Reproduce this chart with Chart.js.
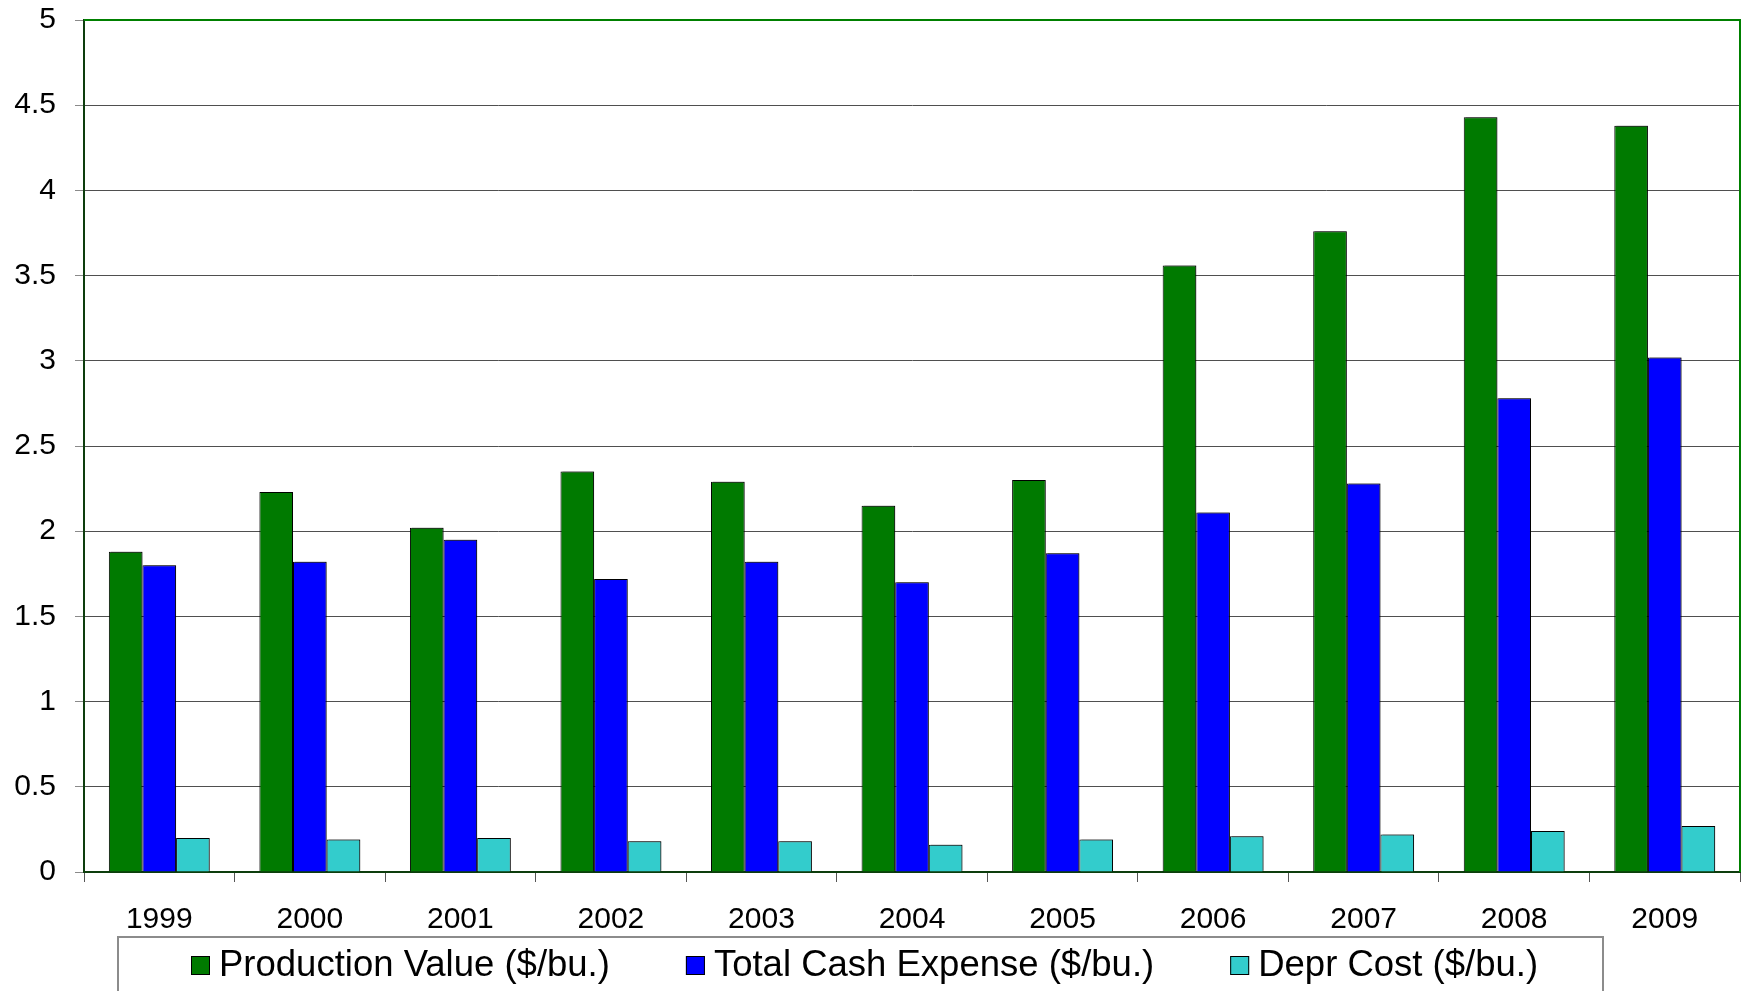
<!DOCTYPE html>
<html>
<head>
<meta charset="utf-8">
<script src="https://cdn.jsdelivr.net/npm/chart.js@4.4.1/dist/chart.umd.min.js"></script>
<style>
html,body{margin:0;padding:0;background:#fff;}
#wrap{width:1744px;height:991px;position:relative;}
</style>
</head>
<body>
<div id="wrap"><canvas id="c" width="1744" height="991"></canvas></div>
<script>
const categories = ['1999','2000','2001','2002','2003','2004','2005','2006','2007','2008','2009'];
const productionValue = [1.88, 2.23, 2.02, 2.35, 2.29, 2.15, 2.30, 3.56, 3.76, 4.43, 4.38];
const totalCashExpense = [1.80, 1.82, 1.95, 1.72, 1.82, 1.70, 1.87, 2.11, 2.28, 2.78, 3.02];
const deprCost = [0.20, 0.19, 0.20, 0.18, 0.18, 0.16, 0.19, 0.21, 0.22, 0.24, 0.27];
const seriesLabels = ['Production Value ($/bu.)', 'Total Cash Expense ($/bu.)', 'Depr Cost ($/bu.)'];
const seriesColors = ['#007a00', '#0000ff', '#33cccc'];

const FONT = '"Liberation Sans", Arial, sans-serif';

const shadowPlugin = {
  id: 'barShadow',
  beforeDatasetsDraw(chart) {
    const ctx = chart.ctx;
    ctx.save();
    ctx.shadowColor = 'rgba(0,0,0,0.35)';
    ctx.shadowOffsetX = 2;
    ctx.shadowOffsetY = -1;
    ctx.shadowBlur = 0;
  },
  afterDatasetsDraw(chart) {
    chart.ctx.restore();
  }
};

const framePlugin = {
  id: 'frame',
  afterDraw(chart) {
    const ctx = chart.ctx;
    const a = chart.chartArea;
    ctx.save();
    ctx.strokeStyle = '#008000';
    ctx.lineWidth = 2;
    ctx.beginPath();
    ctx.moveTo(a.left, a.top);
    ctx.lineTo(a.right, a.top);
    ctx.lineTo(a.right, a.bottom);
    ctx.stroke();
    ctx.restore();
  }
};

const legendPlugin = {
  id: 'customLegend',
  afterDraw(chart) {
    const ctx = chart.ctx;
    ctx.save();
    ctx.strokeStyle = '#8c8c8c';
    ctx.lineWidth = 2;
    ctx.strokeRect(118, 937, 1485, 80);
    ctx.font = '36.5px ' + FONT;
    ctx.textBaseline = 'alphabetic';
    ctx.textAlign = 'left';
    let x = 191;
    const box = 19, gapBoxText = 9, gapItems = 76;
    chart.data.datasets.forEach((ds) => {
      ctx.fillStyle = ds.backgroundColor;
      ctx.fillRect(x, 956, box, box);
      ctx.strokeStyle = '#000';
      ctx.lineWidth = 1;
      ctx.strokeRect(x + 0.5, 956.5, box - 1, box - 1);
      ctx.fillStyle = '#000';
      const tx = x + box + gapBoxText;
      ctx.fillText(ds.label, tx, 976);
      x = tx + ctx.measureText(ds.label).width + gapItems;
    });
    ctx.restore();
  }
};

const datasets = [productionValue, totalCashExpense, deprCost].map((vals, i) => ({
  label: seriesLabels[i],
  data: vals,
  backgroundColor: seriesColors[i],
  borderColor: '#000',
  borderWidth: 1,
  categoryPercentage: 0.67,
  barPercentage: 1.0
}));

new Chart(document.getElementById('c'), {
  type: 'bar',
  data: { labels: categories, datasets },
  plugins: [shadowPlugin, framePlugin, legendPlugin],
  options: {
    responsive: false,
    animation: false,
    devicePixelRatio: 1,
    layout: { padding: { top: 20, right: 4, left: 0, bottom: 0 } },
    plugins: { legend: { display: false }, tooltip: { enabled: false } },
    scales: {
      x: {
        afterFit(scale) { scale.height = 119; scale.paddingLeft = 0; scale.paddingRight = 0; },
        grid: { drawOnChartArea: false, drawTicks: true, tickLength: 10, tickColor: '#555', offset: true },
        border: { color: '#0d3d0d', width: 2 },
        ticks: { color: '#000', font: { family: FONT, size: 30 }, padding: 20, maxRotation: 0 }
      },
      y: {
        min: 0, max: 5,
        afterFit(scale) { scale.width = 84; scale.paddingTop = 0; scale.paddingBottom = 0; },
        grid: { color: '#4f4f4f', lineWidth: 1, tickLength: 9, tickColor: '#8a8a8a' },
        border: { color: '#0d3d0d', width: 2 },
        ticks: {
          stepSize: 0.5,
          color: '#000',
          font: { family: FONT, size: 30 },
          padding: 19,
          callback: (v) => String(Math.round(v * 10) / 10)
        }
      }
    }
  }
});
</script>
</body>
</html>
